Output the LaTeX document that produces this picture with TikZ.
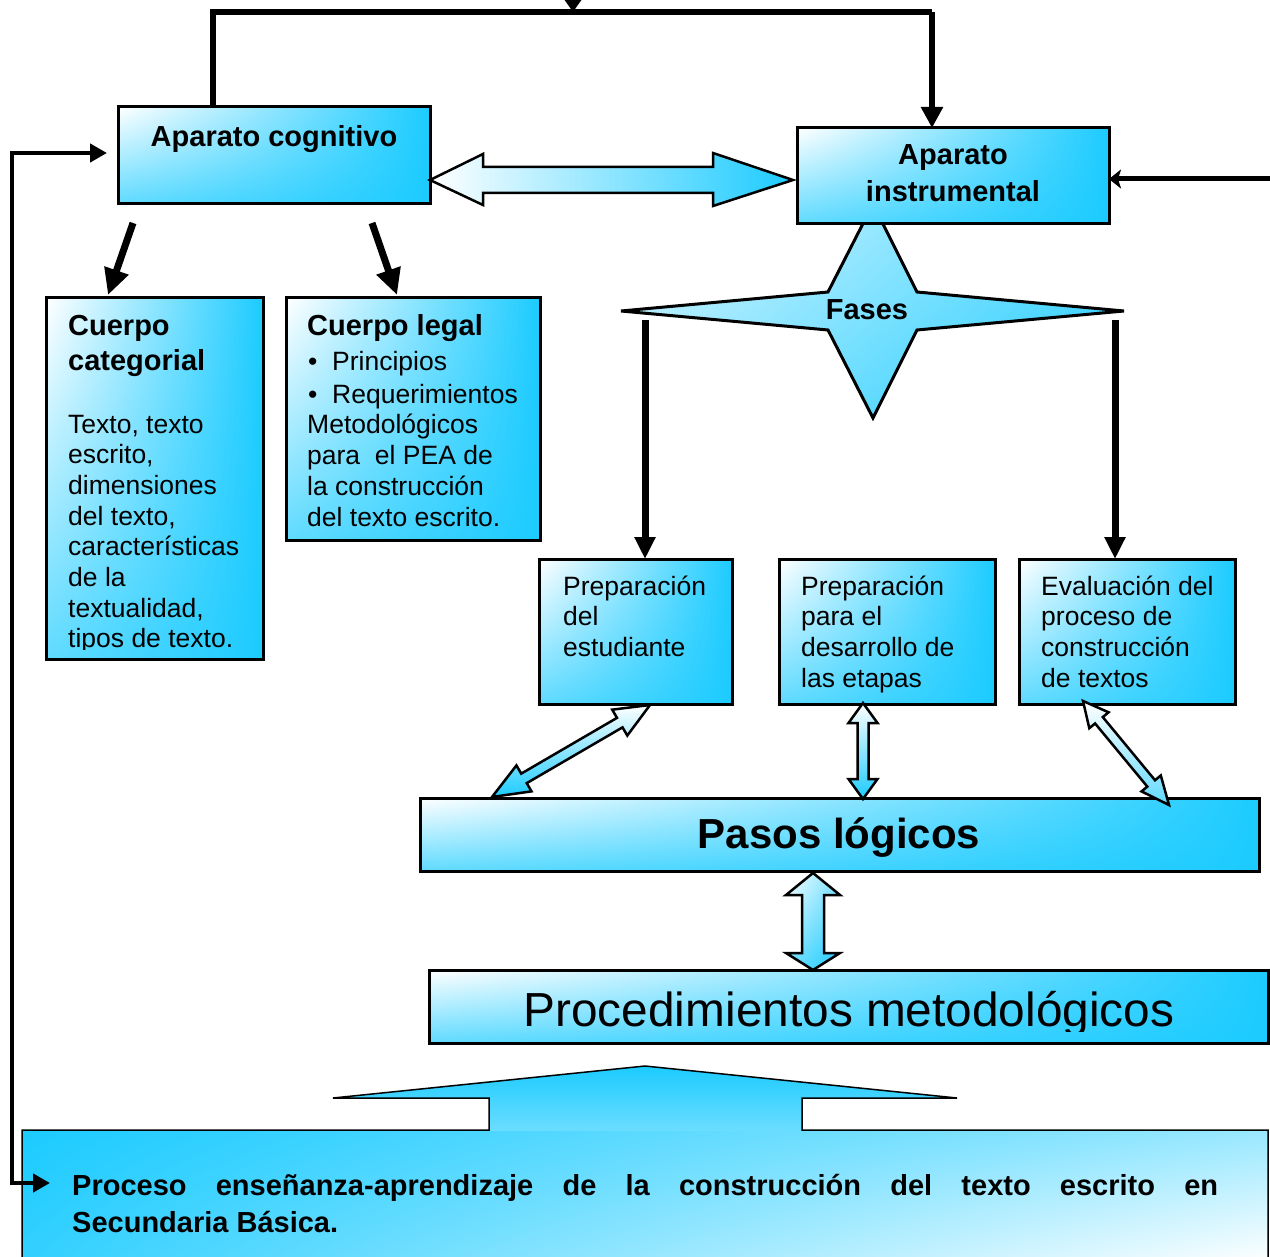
\documentclass[tikz,border=0pt]{standalone}
\usepackage{fontspec}
\setmainfont{Liberation Sans}
\usetikzlibrary{arrows.meta,calc,shadings}
\definecolor{cy}{RGB}{28,203,255}
\newcommand\stack[1]{\vtop{\baselineskip=30.7pt\lineskiplimit=-100pt\lineskip=0pt\halign{##\hfil\cr#1\crcr}}}
\newcommand\dblblock[7]{%
  \coordinate (bA) at (#1); \coordinate (bB) at (#2);
  \coordinate (hA) at ($(bA)!#5!(bB)$);
  \coordinate (hB) at ($(bB)!#6!(bA)$);
  \path[blk,#7] (bA) -- ($(hA)!#4!90:(bB)$) -- ($(hA)!#3!90:(bB)$) -- ($(hB)!#3!-90:(bA)$) -- ($(hB)!#4!-90:(bA)$) -- (bB) -- ($(hB)!#4!90:(bA)$) -- ($(hB)!#3!90:(bA)$) -- ($(hA)!#3!-90:(bB)$) -- ($(hA)!#4!-90:(bB)$) -- cycle;}
\tikzset{
  box/.style={draw=black, line width=3pt, inner sep=0pt, outer sep=0pt, anchor=north west,
    shade, shading=bilinear interpolation, upper left=white, upper right=cy, lower left=cy!70!white, lower right=cy},
  conn/.style={line width=6pt, draw=black, line join=miter},
  txt/.style={inner sep=0pt, anchor=base west, font=\fontsize{26.5}{30.7}\selectfont},
  ttl/.style={inner sep=0pt, anchor=base west, font=\fontsize{29}{34}\selectfont\bfseries},
  blk/.style={draw=black, line width=2.5pt, line join=miter},
}
\begin{document}
\begin{tikzpicture}[x=1pt,y=-1pt]
\useasboundingbox (0,0) rectangle (1270,1257);

% ---------- star "Fases"
\path[blk, line width=3pt, shade, shading=bilinear interpolation, upper left=cy!15!white, upper right=cy!70!white, lower left=cy!45!white, lower right=cy]
  (873,204) -- (917,292) -- (1124,311) -- (917,330) -- (873,418) -- (828,330) -- (621,311) -- (828,292) -- cycle;
\node[ttl, anchor=base] (fases) at (867,320) {Fases};

% ---------- boxes
\node[box, minimum width=312pt, minimum height=97pt] (ac) at (118,107) {};
\node[box, minimum width=312pt, minimum height=96pt] (ai) at (797,128) {};
\node[box, minimum width=217pt, minimum height=361pt] (cc) at (46,298) {};
\node[box, minimum width=254pt, minimum height=242pt] (cl) at (286,298) {};
\node[box, minimum width=193pt, minimum height=145pt] (p1) at (539,559) {};
\node[box, minimum width=216pt, minimum height=145pt] (p2) at (779,559) {};
\node[box, minimum width=216pt, minimum height=145pt] (p3) at (1019,559) {};
\node[box, minimum width=839pt, minimum height=73pt] (pl) at (420,798) {};
\node[box, minimum width=839pt, minimum height=73pt] (pm) at (429,970) {};

% ---------- texts
\node[ttl, anchor=base] (tac) at (274,147) {Aparato cognitivo};
\node[ttl, anchor=base] (tai1) at (953,165) {Aparato};
\node[ttl, anchor=base] (tai2) at (953,202) {instrumental};

\begin{scope}
\clip (46,298) rectangle (263,649.5);
\node[ttl] (tcc1) at (68,336) {Cuerpo};
\node[ttl] (tcc2) at (68,371) {categorial};
\node[txt] (tcc3) at (68,433) {\stack{Texto, texto\cr escrito,\cr dimensiones\cr del texto,\cr características\cr de la\cr textualidad,\cr tipos de texto.}};
\end{scope}

\node[ttl] (tcl1) at (307,336) {Cuerpo legal};
\node[txt] (bul1) at (308,371) {•};
\node[txt] (tcl2) at (332,371) {Principios};
\node[txt] (bul2) at (308,404) {•};
\node[txt] (tcl3) at (332,404) {Requerimientos};
\node[txt] (tcl4) at (307,434) {\stack{Metodológicos\cr para\ \ el PEA de\cr la construcción\cr del texto escrito.}};

\node[txt] (tp1) at (563,595) {\stack{Preparación\cr del\cr estudiante}};
\node[txt] (tp2) at (801,595) {\stack{Preparación\cr para el\cr desarrollo de\cr las etapas}};
\node[txt] (tp3) at (1041,595) {\stack{Evaluación del\cr proceso de\cr construcción\cr de textos}};

\node[inner sep=0pt, anchor=base, font=\fontsize{42}{48}\selectfont\bfseries] (tpl) at (839,848) {Pasos lógicos};
\begin{scope}
\clip (429,970) rectangle (1268,1031);
\node[inner sep=0pt, anchor=base, font=\fontsize{47.8}{55}\selectfont] (tpm) at (849,1026) {Procedimientos metodológicos};
\end{scope}

% ---------- black connectors
\coordinate (topin) at (573,-12);
\coordinate (topline) at (573,12);
\draw[conn] ($(ac.north west)+(95,0)$) |- (932,12) coordinate (tr);
\draw[conn, -{Triangle[width=21pt,length=21pt]}] (tr) -- (tr |- ai.north);
\draw[conn, -{Triangle[width=16pt,length=12pt]}] (topin) -- (topline);

\coordinate (rin) at (1272,179);
\draw[conn, line width=5pt, -{Stealth[width=19pt,length=12pt,inset=3pt]}] (rin) -- (rin -| ai.east);

\coordinate (fbtop) at ($(ac.north west)+(-11,46)$);
\coordinate (fbbot) at (50,1183);
\draw[conn, line width=4.5pt, {Triangle[width=18pt,length=17pt]}-{Triangle[width=18pt,length=17pt]}]
  (fbtop) -- (12,153) -- (12,1183) -- (fbbot);

\draw[conn, line width=7pt, -{Triangle[width=24pt,length=26pt]}] ($(ac.south west)+(15,19)$) -- ($(cc.north west)+(62,-3)$);
\draw[conn, line width=7pt, -{Triangle[width=24pt,length=26pt]}] ($(ac.south west)+(254,19)$) -- ($(cl.north west)+(111,-3)$);

\coordinate (sl) at (645,320);
\coordinate (sr) at (1115,320);
\draw[conn, line width=7pt, -{Triangle[width=20pt,length=22pt]}] (sl) -- (sl |- p1.north);
\draw[conn, line width=7pt, -{Triangle[width=20pt,length=22pt]}] (sr) -- (sr |- p3.north);

% ---------- block arrows
\path[blk, shade, left color=white, right color=cy]
  (430,180) -- (483,154) -- (483,167) -- (713,167) -- (713,153) -- (793,180) -- (713,206) -- (713,193) -- (483,193) -- (483,205) -- cycle;

\path[blk, shade, shading=bilinear interpolation, upper left=white, upper right=cy!55!white, lower left=cy!65!white, lower right=cy]
  (813,873) -- (840,895) -- (824,895) -- (824,953) -- (840,953) -- (813,970) -- (786,953) -- (802,953) -- (802,895) -- (786,895) -- cycle;

\dblblock{650,705}{492,797}{5.5pt}{15pt}{35pt}{37pt}{shade, top color=white, bottom color=cy}
\dblblock{863,703}{863,799}{5.5pt}{14.5pt}{20pt}{20pt}{shade, top color=white, bottom color=cy}
\dblblock{1083,701}{1169,805}{5pt}{12.5pt}{25pt}{28pt}{shade, top color=white, bottom color=cy!70!white}

% ---------- bottom box and big arrow
\path[shade, shading=bilinear interpolation, upper left=cy, lower left=cy!90!white, upper right=cy!45!white, lower right=white]
  (22,1130) rectangle (1268,1262);
\path[shade, top color=cy, bottom color=cy!65!white]
  (645,1066) -- (957,1098) -- (802,1098) -- (802,1131) -- (489,1131) -- (489,1098) -- (333,1098) -- cycle;
\draw[line width=1.5pt, line join=miter]
  (22,1262) -- (22,1130) -- (489,1130) -- (489,1098) -- (333,1098) -- (645,1066) -- (957,1098) -- (802,1098) -- (802,1130) -- (1268,1130) -- (1268,1262);
\node[ttl] (bt1) at (72,1195) {\makebox[1146pt][s]{Proceso enseñanza-aprendizaje de la construcción del texto escrito en}};
\node[ttl] (bt2) at (72,1232) {Secundaria Básica.};
\draw[conn, line width=4.5pt, -{Triangle[width=18pt,length=17pt]}] (12,1183) -- (fbbot);
\end{tikzpicture}
\end{document}
